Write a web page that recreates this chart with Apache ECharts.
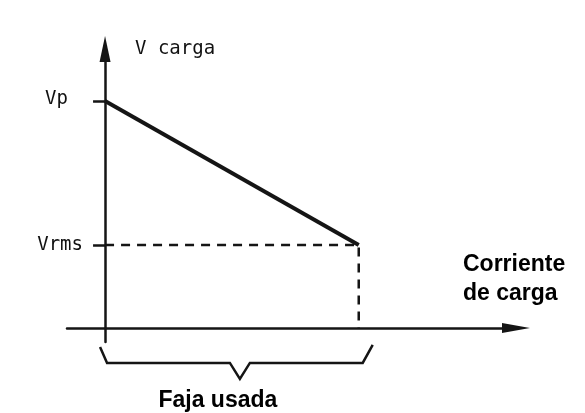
<!DOCTYPE html>
<html><head><meta charset="utf-8">
<script src="https://cdn.jsdelivr.net/npm/echarts@6/dist/echarts.min.js"></script>
<style>html,body{margin:0;padding:0;background:#fff}#c{width:585px;height:413px}</style>
</head><body><div id="c"></div>
<script>
// ---- data (relative units) ----
const tickLabels = ['Vrms', 'Vp'];
const voltage = [1.0, 0.365];        // Vp, Vrms
const current = [0, 1.0];            // start and end of the used range
const axisNames = ['Corriente\nde carga', 'V carga'];
const rangeLabel = 'Faja usada';

const Vp = voltage[0], Vrms = voltage[1];
const I0 = current[0], I1 = current[1];
const ink = '#151515';
const hand = '"DejaVu Sans Mono"';
const chart = echarts.init(document.getElementById('c'));
chart.setOption({
  backgroundColor: '#fff',
  animation: false,
  grid: { left: 67, right: 69, top: 49, bottom: 71, containLabel: false, outerBoundsMode: 'none' },
  xAxis: {
    type: 'value', min: -0.15, max: 1.62,
    splitLine: { show: false },
    axisLine: { onZero: true, symbol: ['none', 'triangle'], symbolSize: [10, 28], lineStyle: { color: ink, width: 2.5 } },
    axisTick: { show: false }, axisLabel: { show: false },
    name: axisNames[0], nameLocation: 'end', nameGap: -53,
    nameTextStyle: { fontFamily: 'Liberation Sans', fontWeight: 'bold', fontSize: 23, color: '#000',
      align: 'left', verticalAlign: 'bottom', lineHeight: 29, padding: [0, 0, 20, 0] }
  },
  yAxis: {
    type: 'value', min: -0.062, max: 1.229,
    splitLine: { show: false },
    axisLine: { onZero: true, symbol: ['none', 'triangle'], symbolSize: [11, 26], lineStyle: { color: ink, width: 2.5 } },
    axisTick: { show: true, customValues: [Vrms, Vp], length: 12, lineStyle: { color: ink, width: 2.5 } },
    axisLabel: {
      show: true, customValues: [Vrms, Vp], margin: -16,
      formatter: v => Math.abs(v - Vp) < 1e-9 ? '{p|' + tickLabels[1] + '}' : '{r|' + tickLabels[0] + '}',
      rich: {
        p: { fontFamily: hand, fontSize: 19, color: '#111', padding: [0, 15, 4, 0] },
        r: { fontFamily: hand, fontSize: 19, color: '#111', padding: [0, 0, 0, 0] }
      }
    },
    name: axisNames[1], nameLocation: 'end', nameGap: 0,
    nameTextStyle: { fontFamily: hand, fontSize: 19, color: '#111', align: 'left', verticalAlign: 'middle', padding: [2, 0, 0, 30] }
  },
  series: [
    { type: 'line', data: [[I0, Vp], [I1, Vrms]], symbol: 'none', lineStyle: { color: ink, width: 4 }, z: 4 },
    { type: 'line', data: [[I0, Vrms], [I1, Vrms], [I1, 0]], symbol: 'none', lineStyle: { color: ink, width: 2.5, type: [9, 7] }, z: 3 },
    {
      type: 'custom', clip: false, data: [[I0, I1]],
      encode: { x: [0, 1] },
      renderItem: (params, api) => {
        const a = api.coord([api.value(0), 0]);
        const b = api.coord([api.value(1), 0]);
        const y = a[1], mid = (a[0] + b[0]) / 2 + 8;
        return { type: 'group', children: [
          { type: 'polyline', shape: { points: [[a[0] - 5, y + 19], [a[0] + 2, y + 35], [mid - 10, y + 35], [mid, y + 51],
              [mid + 10, y + 35], [b[0] + 4, y + 35], [b[0] + 14, y + 17]] },
            style: { stroke: ink, lineWidth: 2.5, fill: null } },
          { type: 'text', x: mid - 22, y: y + 73,
            style: { text: rangeLabel, font: 'bold 23px "Liberation Sans"', fill: '#000', align: 'center', verticalAlign: 'middle' } }
        ] };
      }
    }
  ]
});
</script></body></html>
